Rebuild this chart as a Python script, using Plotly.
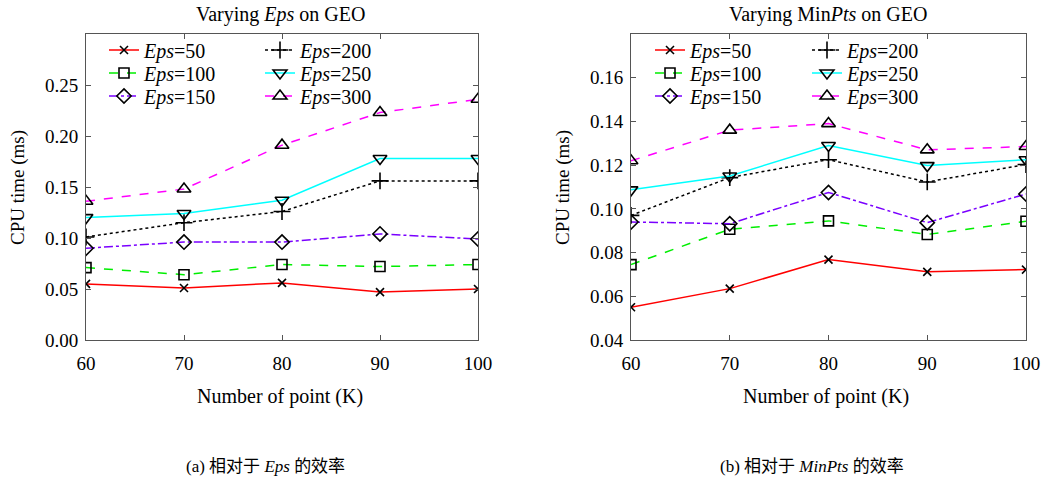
import plotly.graph_objects as go

x_points = [60, 70, 80, 90, 100]
eps_names = ["Eps=50", "Eps=100", "Eps=150", "Eps=200", "Eps=250", "Eps=300"]

# (a) varying Eps
eps_50 = [0.055, 0.051, 0.056, 0.047, 0.050]
eps_100 = [0.071, 0.064, 0.074, 0.072, 0.074]
eps_150 = [0.090, 0.096, 0.096, 0.104, 0.099]
eps_200 = [0.101, 0.115, 0.126, 0.156, 0.156]
eps_250 = [0.120, 0.124, 0.137, 0.178, 0.178]
eps_300 = [0.136, 0.148, 0.191, 0.223, 0.236]

# (b) varying MinPts
min_50 = [0.055, 0.0635, 0.0768, 0.0712, 0.0722]
min_100 = [0.0745, 0.0907, 0.0945, 0.0883, 0.0943]
min_150 = [0.094, 0.0932, 0.1075, 0.0937, 0.1068]
min_200 = [0.097, 0.1143, 0.1225, 0.1123, 0.1203]
min_250 = [0.1087, 0.115, 0.129, 0.1198, 0.1225]
min_300 = [0.122, 0.136, 0.139, 0.127, 0.1285]

left_series = [eps_50, eps_100, eps_150, eps_200, eps_250, eps_300]
right_series = [min_50, min_100, min_150, min_200, min_250, min_300]

colors = ["#ff0000", "#00ee00", "#7a00ff", "#000000", "#00ffff", "#ff00ff"]
dashes = ["solid", "dash", "dashdot", "dot", "solid", "dash"]
symbols = ["x-thin-open", "square-open", "diamond-open", "cross-thin-open",
           "triangle-down-open", "triangle-up-open"]
sizes = [8, 10, 11, 12, 12, 12]

SERIF = "Liberation Serif, Times New Roman, serif"

fig = go.Figure()

W, H = 1041, 480
def px_x(p):
    return p / W
def px_y(p):
    return 1 - p / H

def legend_name(k):
    return "legend" if k == 1 else "legend%d" % k

for panel, (series, xa, ya) in enumerate([
        (left_series, "x", "y"), (right_series, "x2", "y2")]):
    for i, vals in enumerate(series):
        name = "<i>Eps</i>=" + eps_names[i].split("=")[1]
        fig.add_trace(go.Scatter(
            x=x_points, y=vals, xaxis=xa, yaxis=ya,
            mode="lines+markers", name=name,
            line=dict(color=colors[i], dash=dashes[i], width=1.5),
            marker=dict(symbol=symbols[i], size=sizes[i], color="black",
                        line=dict(color="black", width=1.6)),
            legend=legend_name(panel * 6 + i + 1),
        ))

axis_common = dict(showline=True, linecolor="#555555", linewidth=1, mirror="ticks",
                   ticks="inside", ticklen=5, tickcolor="#555555", showgrid=False,
                   zeroline=False, automargin=False,
                   tickfont=dict(family=SERIF, size=19, color="black"))

fig.update_layout(
    width=W, height=H,
    margin=dict(l=0, r=0, t=0, b=0),
    plot_bgcolor="white", paper_bgcolor="white",
    xaxis=dict(domain=[px_x(86), px_x(478)], range=[60, 100], tickvals=x_points,
               anchor="y", ticklabelstandoff=6, **axis_common),
    yaxis=dict(domain=[px_y(340), px_y(34)], range=[0, 0.3],
               tickvals=[0, 0.05, 0.10, 0.15, 0.20, 0.25], tickformat=".2f",
               anchor="x", ticklabelstandoff=3, **axis_common),
    xaxis2=dict(domain=[px_x(631), px_x(1026)], range=[60, 100], tickvals=x_points,
                anchor="y2", ticklabelstandoff=6, **axis_common),
    yaxis2=dict(domain=[px_y(340), px_y(34)], range=[0.04, 0.18],
                tickvals=[0.04, 0.06, 0.08, 0.10, 0.12, 0.14, 0.16], tickformat=".2f",
                anchor="x2", ticklabelstandoff=3, **axis_common),
    showlegend=True,
)

# one legend per entry, laid out as 2 columns x 3 rows inside each panel
leg_common = dict(bgcolor="rgba(0,0,0,0)", borderwidth=0, orientation="v",
                  font=dict(family=SERIF, size=20, color="black"),
                  xanchor="left", yanchor="middle", itemwidth=30)
col_x = [[104, 260], [650, 807]]
row_y = [50, 73, 96]
legends = {}
for panel in range(2):
    for i in range(6):
        col, row = (0, i) if i < 3 else (1, i - 3)
        legends[legend_name(panel * 6 + i + 1)] = dict(
            x=px_x(col_x[panel][col]), y=px_y(row_y[row]), **leg_common)
fig.update_layout(**legends)

annotations = [
    dict(text="Varying <i>Eps</i> on GEO", x=px_x(280), y=px_y(14)),
    dict(text="Varying Min<i>Pts</i> on GEO", x=px_x(828), y=px_y(14)),
    dict(text="Number of point (K)", x=px_x(280), y=px_y(396)),
    dict(text="Number of point (K)", x=px_x(826), y=px_y(396)),
    dict(text="CPU time (ms)", x=px_x(18), y=px_y(188), textangle=-90, font_size=19),
    dict(text="CPU time (ms)", x=px_x(563), y=px_y(188), textangle=-90, font_size=19),
]
for a in annotations:
    fs = a.pop("font_size", 20)
    fig.add_annotation(xref="paper", yref="paper", showarrow=False,
                       xanchor="center", yanchor="middle",
                       font=dict(family=SERIF, size=fs, color="black"), **a)

cap_font = dict(family="Liberation Serif, Noto Sans CJK SC", size=17, color="black")
fig.add_annotation(text="(a) 相对于 <i>Eps</i> 的效率", x=px_x(265), y=px_y(466),
                   xref="paper", yref="paper", showarrow=False, font=cap_font,
                   xanchor="center", yanchor="middle")
fig.add_annotation(text="(b) 相对于 <i>MinPts</i> 的效率", x=px_x(812), y=px_y(466),
                   xref="paper", yref="paper", showarrow=False, font=cap_font,
                   xanchor="center", yanchor="middle")

fig.write_html("out.html", config={"displayModeBar": False},
               post_script="document.body.style.margin='0';"
                           "document.body.style.overflow='hidden';")
